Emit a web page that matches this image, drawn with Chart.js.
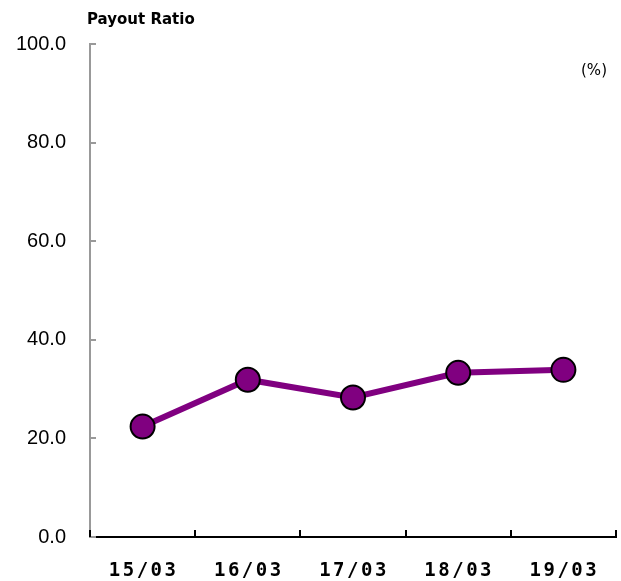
<!DOCTYPE html>
<html>
<head>
<meta charset="utf-8">
<script src="https://cdn.jsdelivr.net/npm/chart.js@4/dist/chart.umd.min.js"></script>
<style>
  html, body { margin: 0; padding: 0; background: #fff; }
  #wrap { width: 621px; height: 581px; }
</style>
</head>
<body>
<div id="wrap"><canvas id="payout-chart" width="621" height="581"></canvas></div>
<script>
const years = ['15/03', '16/03', '17/03', '18/03', '19/03'];
const payoutRatio = [22.4, 31.9, 28.3, 33.3, 33.9];
const yTicks = [0, 20, 40, 60, 80, 100];

// inward tick marks, x labels with letter spacing, title and unit
const axisDecor = {
  id: 'axisDecor',
  afterDraw(chart) {
    const { ctx, scales: { x, y }, chartArea } = chart;
    ctx.save();

    ctx.strokeStyle = '#999';
    ctx.lineWidth = 2;
    yTicks.forEach((v) => {
      const py = Math.round(y.getPixelForValue(v));
      ctx.beginPath();
      ctx.moveTo(chartArea.left, py);
      ctx.lineTo(chartArea.left + 6, py);
      ctx.stroke();
    });

    ctx.strokeStyle = '#000';
    for (let i = 0; i <= years.length; i++) {
      const px = Math.round(x.getPixelForValue(i - 0.5));
      ctx.beginPath();
      ctx.moveTo(px, chartArea.bottom);
      ctx.lineTo(px, chartArea.bottom - 7);
      ctx.stroke();
    }

    ctx.fillStyle = '#000';
    ctx.font = 'bold 19px "DejaVu Sans Mono"';
    ctx.textAlign = 'center';
    ctx.textBaseline = 'alphabetic';
    ctx.letterSpacing = '2.5px';
    years.forEach((lab, i) => {
      ctx.fillText(lab, x.getPixelForValue(i) + 1, 576);
    });
    ctx.letterSpacing = '0px';

    ctx.textAlign = 'left';
    ctx.font = 'bold 15px "DejaVu Sans"';
    ctx.fillText('Payout Ratio', 87, 24);

    ctx.font = '15px "DejaVu Sans"';
    ctx.textAlign = 'center';
    ctx.fillText('(%)', 594, 75);
    ctx.restore();
  }
};

const ctx = document.querySelector('#payout-chart').getContext('2d');
const chart = new Chart(ctx, {
  type: 'line',
  data: {
    labels: years,
    datasets: [
      {
        label: 'Payout Ratio',
        data: payoutRatio,
        borderColor: '#800080',
        backgroundColor: '#800080',
        borderWidth: 6,
        pointRadius: 12,
        pointBorderColor: '#000',
        pointBorderWidth: 2,
        pointBackgroundColor: '#800080',
        tension: 0
      }
    ]
  },
  options: {
    responsive: false,
    animation: false,
    layout: { autoPadding: false, padding: { left: 0, right: 5, top: 44, bottom: 0 } },
    plugins: {
      legend: { display: false },
      tooltip: { enabled: false }
    },
    scales: {
      x: {
        type: 'category',
        offset: true,
        grid: { display: false, drawTicks: false },
        border: { display: true, color: '#000', width: 2 },
        ticks: { display: false },
        afterFit: (s) => { s.height = 44; }
      },
      y: {
        min: 0,
        max: 100,
        grid: { display: false, drawTicks: false },
        border: { display: true, color: '#999', width: 2 },
        ticks: {
          stepSize: 20,
          padding: 24,
          color: '#000',
          font: { family: '"Liberation Sans"', size: 20 },
          callback: (v) => v.toFixed(1)
        },
        afterFit: (s) => { s.width = 90; }
      }
    }
  },
  plugins: [axisDecor]
});
</script>
</body>
</html>
